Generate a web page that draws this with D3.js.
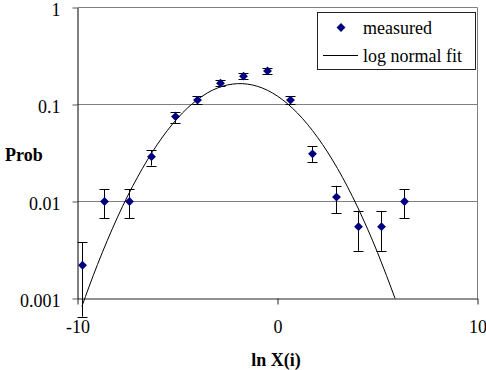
<!DOCTYPE html>
<html>
<head>
<meta charset="utf-8">
<script src="https://cdn.jsdelivr.net/npm/d3@7"></script>
<style>
  body { margin: 0; background: #fff; }
  svg text { font-family: "Liberation Serif", Tinos, "Times New Roman", "DejaVu Serif", serif !important; }
</style>
</head>
<body>
<script>
// measured points (ln X, probability) with error bar ends
const lnX = [-9.78, -8.65, -7.45, -6.33, -5.15, -4.03, -2.9, -1.72, -0.55, 0.6, 1.73, 2.9, 4.03, 5.15, 6.3];
const prob = [0.0022, 0.01, 0.01, 0.029, 0.075, 0.111, 0.166, 0.196, 0.222, 0.111, 0.031, 0.0111, 0.0055, 0.0055, 0.01];
const errHi = [0.0038, 0.0134, 0.0134, 0.034, 0.084, 0.122, 0.179, 0.212, 0.239, 0.122, 0.037, 0.0145, 0.008, 0.008, 0.0134];
const errLo = [0.00065, 0.0067, 0.0067, 0.0234, 0.0646, 0.101, 0.154, 0.182, 0.207, 0.101, 0.0256, 0.0076, 0.0031, 0.0031, 0.0067];

// log normal fit curve
const fitX = [-9.78, -9, -8, -7, -6, -5, -4, -3, -2, -1, 0, 1, 2, 3, 4, 5, 5.88];
const fitP = [0.00083, 0.00224, 0.00689, 0.0178, 0.039, 0.0721, 0.1125, 0.148, 0.164, 0.154, 0.122, 0.0815, 0.0459, 0.0219, 0.00879, 0.00298, 0.001];

const xTicks = [-10, 0, 10];
const xLabels = ["-10", "0", "10"];
const yTicks = [0.001, 0.01, 0.1, 1];
const yLabels = ["0.001", "0.01", "0.1", "1"];

const WIDTH = 486;
const HEIGHT = 370;
const PLOT_LEFT = 77.5, PLOT_RIGHT = 477.5, PLOT_TOP = 7.5, PLOT_BOTTOM = 298.5;

const svg = d3.select("body").append("svg")
  .attr("width", WIDTH)
  .attr("height", HEIGHT);

const x = d3.scaleLinear().domain([-10, 10]).range([PLOT_LEFT, PLOT_RIGHT]);
const y = d3.scaleLog().domain([0.001, 1]).range([PLOT_BOTTOM, PLOT_TOP]);

// gridlines
svg.append("g")
  .selectAll("line")
  .data(yTicks.slice(1))
  .enter()
  .append("line")
  .attr("x1", PLOT_LEFT)
  .attr("x2", PLOT_RIGHT)
  .attr("y1", (d) => y(d))
  .attr("y2", (d) => y(d))
  .attr("stroke", "#808080");

// right border
svg.append("line")
  .attr("x1", PLOT_RIGHT).attr("x2", PLOT_RIGHT)
  .attr("y1", PLOT_TOP).attr("y2", PLOT_BOTTOM)
  .attr("stroke", "#808080");

// x axis
const xAxis = svg.append("g")
  .attr("transform", `translate(0,${PLOT_BOTTOM})`)
  .call(d3.axisBottom(x).tickValues(xTicks).tickFormat((d, i) => xLabels[i])
    .tickSizeInner(6).tickSizeOuter(0).tickPadding(16));
xAxis.attr("font-family", null).attr("font-size", 18);
xAxis.select(".domain").attr("stroke", "#222");
xAxis.selectAll("line").attr("stroke", "#222");
xAxis.selectAll("text").attr("fill", "#000");

// y axis
const yAxis = svg.append("g")
  .attr("transform", `translate(${PLOT_LEFT},0)`)
  .call(d3.axisLeft(y).tickValues(yTicks).tickFormat((d, i) => yLabels[i])
    .tickSizeInner(5).tickSizeOuter(0).tickPadding(12));
yAxis.attr("font-family", null).attr("font-size", 18);
yAxis.select(".domain").attr("stroke", "#000");
yAxis.selectAll("line").attr("stroke", "#555");
yAxis.selectAll("text").attr("fill", "#000").attr("dy", "0.44em");

// fit curve
const fitData = fitX.map((d, i) => [d, fitP[i]]);
svg.append("path")
  .datum(fitData)
  .attr("fill", "none")
  .attr("stroke", "#000")
  .attr("stroke-width", 1)
  .attr("d", d3.line().x((d) => x(d[0])).y((d) => y(d[1])).curve(d3.curveNatural));

// error bars
const pts = lnX.map((d, i) => ({ x: d, p: prob[i], hi: errHi[i], lo: errLo[i] }));
const err = svg.append("g").attr("stroke", "#000").attr("stroke-width", 1);
err.selectAll(".v").data(pts).enter().append("line")
  .attr("x1", (d) => Math.round(x(d.x)) + 0.5)
  .attr("x2", (d) => Math.round(x(d.x)) + 0.5)
  .attr("y1", (d) => y(d.hi))
  .attr("y2", (d) => y(d.lo));
err.selectAll(".t").data(pts).enter().append("line")
  .attr("x1", (d) => Math.round(x(d.x)) + 0.5 - 5)
  .attr("x2", (d) => Math.round(x(d.x)) + 0.5 + 5)
  .attr("y1", (d) => Math.round(y(d.hi)) + 0.5)
  .attr("y2", (d) => Math.round(y(d.hi)) + 0.5);
err.selectAll(".b").data(pts).enter().append("line")
  .attr("x1", (d) => Math.round(x(d.x)) + 0.5 - 5)
  .attr("x2", (d) => Math.round(x(d.x)) + 0.5 + 5)
  .attr("y1", (d) => Math.round(y(d.lo)) + 0.5)
  .attr("y2", (d) => Math.round(y(d.lo)) + 0.5);

// markers
const diamond = d3.symbol().type(d3.symbolDiamond2).size(50);
svg.append("g")
  .selectAll("path")
  .data(pts)
  .enter()
  .append("path")
  .attr("transform", (d) => `translate(${Math.round(x(d.x)) + 0.5},${y(d.p)})`)
  .attr("d", diamond)
  .attr("fill", "#000080");

// axis titles
svg.append("text")
  .attr("x", 5)
  .attr("y", 161)
  .attr("font-size", 18)
  .attr("font-weight", "bold")
  .text("Prob");
svg.append("text")
  .attr("x", 276)
  .attr("y", 366)
  .attr("text-anchor", "middle")
  .attr("font-size", 18)
  .attr("font-weight", "bold")
  .text("ln X(i)");

// legend
const legend = svg.append("g");
legend.append("rect")
  .attr("x", 317.5).attr("y", 12.5)
  .attr("width", 158).attr("height", 57)
  .attr("fill", "#fff")
  .attr("stroke", "#222");
legend.append("path")
  .attr("transform", "translate(341,27.5)")
  .attr("d", diamond)
  .attr("fill", "#000080");
legend.append("text")
  .attr("x", 363).attr("y", 34)
  .attr("font-size", 18)
  .text("measured");
legend.append("line")
  .attr("x1", 323).attr("x2", 358)
  .attr("y1", 55.5).attr("y2", 55.5)
  .attr("stroke", "#000");
legend.append("text")
  .attr("x", 363).attr("y", 62)
  .attr("font-size", 18)
  .text("log normal fit");
</script>
</body>
</html>
